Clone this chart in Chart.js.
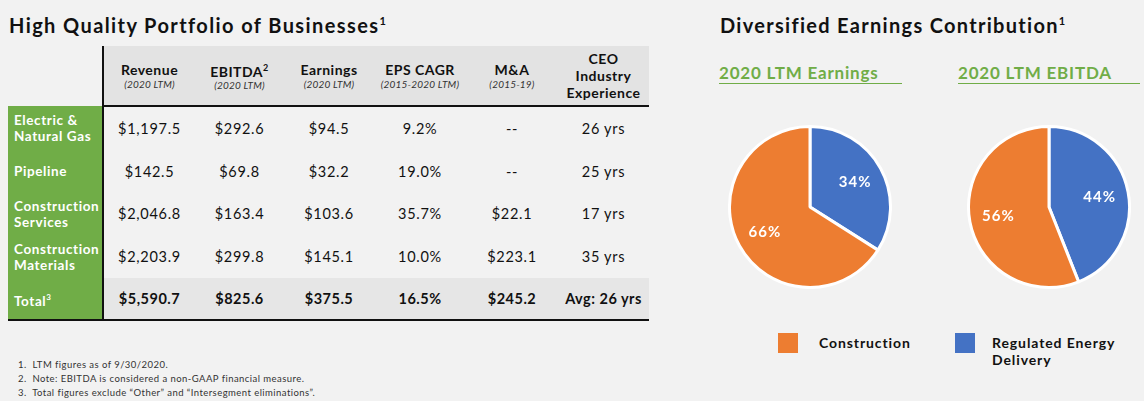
<!DOCTYPE html>
<html lang="en">
<head>
<meta charset="UTF-8">
<title>High Quality Portfolio of Businesses</title>
<script src="https://cdn.jsdelivr.net/npm/chart.js"></script>
<style>
  html, body { margin: 0; padding: 0; }
  body { width: 1144px; height: 401px; background: #f2f2f2; position: relative; overflow: hidden;
         font-family: Lato, "Noto Sans", sans-serif; color: #111; }
  .abs { position: absolute; }
  h1 { position: absolute; margin: 0; font-size: 20px; font-weight: 700; white-space: nowrap; line-height: 1; }
  h1 sup { font-size: 11px; vertical-align: 0; position: relative; top: -8px; }
  table { position: absolute; left: 8px; top: 46px; border-collapse: collapse; table-layout: fixed; }
  td, th { padding: 0; text-align: center; font-size: 14.5px; letter-spacing: 0.7px; white-space: nowrap; overflow: hidden; }
  thead th { background: #e3e3e3; font-weight: 700; font-size: 14px; line-height: 17px; height: 59px;
             border-bottom: 2px solid #111; letter-spacing: 0.5px; }
  thead th.blank { background: #f2f2f2; border-bottom: none; }
  thead th .sub { display: block; font-weight: 400; font-style: italic; font-size: 10px; line-height: 13px;
                  color: #333; letter-spacing: 0.2px; }
  tbody th { background: #70ad47; color: #fff; text-align: left; padding-left: 6px; font-size: 13.5px;
             line-height: 16px; font-weight: 700; letter-spacing: 0.6px; white-space: normal; }
  tbody td { color: #111; }
  tr.total td { background: #e6e6e6; font-weight: 700; letter-spacing: 0.5px; }
  tbody tr:last-child th, tbody tr:last-child td { border-bottom: 2px solid #111; }
  .vline { border-right: 2px solid #111; }
  .foot { position: absolute; left: 18px; top: 358px; font-size: 9.5px; line-height: 14px; color: #333;
          letter-spacing: 0.45px; }
  .sub-title { position: absolute; font-size: 17px; font-weight: 700; color: #70ad47; line-height: 1;
               border-bottom: 1.5px solid #70ad47; padding-bottom: 2px; letter-spacing: 0.8px; }
  .sw { position: absolute; width: 20px; height: 20px; }
  .lg { position: absolute; font-size: 14px; font-weight: 700; line-height: 17px; letter-spacing: 0.9px; }
</style>
</head>
<body>
<h1 style="left:9px; top:15px; letter-spacing:1.4px;">High Quality Portfolio of Businesses<sup>1</sup></h1>

<table id="tbl"></table>

<div class="foot">
  1.&nbsp; LTM figures as of 9/30/2020.<br>
  2.&nbsp; Note: EBITDA is considered a non-GAAP financial measure.<br>
  3.&nbsp; Total figures exclude “Other” and “Intersegment eliminations”.
</div>

<h1 style="left:720px; top:15px; letter-spacing:1.3px;">Diversified Earnings Contribution<sup>1</sup></h1>
<div class="sub-title" style="left:719px; top:64px; width:183px;">2020 LTM Earnings</div>
<div class="sub-title" style="left:958px; top:64px; width:182px;">2020 LTM EBITDA</div>

<div class="abs" style="left:728px; top:125px; width:164px; height:164px;"><canvas id="pieEarnings" width="164" height="164"></canvas></div>
<div class="abs" style="left:967px; top:125px; width:164px; height:164px;"><canvas id="pieEbitda" width="164" height="164"></canvas></div>

<div id="legend"></div>

<script>
// table data
const headers = ['Revenue', 'EBITDA', 'Earnings', 'EPS CAGR', 'M&A', 'CEO Industry Experience'];
const headerSups = ['', '2', '', '', '', ''];
const headerSubs = ['(2020 LTM)', '(2020 LTM)', '(2020 LTM)', '(2015-2020 LTM)', '(2015-19)', ''];
const segments = ['Electric &amp; Natural Gas', 'Pipeline', 'Construction Services', 'Construction Materials'];
const revenue = ['$1,197.5', '$142.5', '$2,046.8', '$2,203.9'];
const ebitda = ['$292.6', '$69.8', '$163.4', '$299.8'];
const earnings = ['$94.5', '$32.2', '$103.6', '$145.1'];
const epsCagr = ['9.2%', '19.0%', '35.7%', '10.0%'];
const mna = ['--', '--', '$22.1', '$223.1'];
const ceoYears = ['26 yrs', '25 yrs', '17 yrs', '35 yrs'];
const totals = ['$5,590.7', '$825.6', '$375.5', '16.5%', '$245.2', 'Avg: 26 yrs'];

// pie data
const pieLabels = ['Regulated Energy Delivery', 'Construction'];
const earningsShare = [34, 66];
const ebitdaShare = [44, 56];
const pieColors = ['#4472c4', '#ed7d31'];

const colWidths = [95, 92, 89, 90, 92, 92, 91];
const rowHeights = [44, 42, 43, 43, 42];

let html = '<colgroup>' + colWidths.map(w => `<col style="width:${w}px">`).join('') + '</colgroup>';
html += '<thead><tr><th class="blank vline"></th>';
headers.forEach((h, i) => {
  let label = h === 'CEO Industry Experience' ? 'CEO<br>Industry<br>Experience' : h;
  if (headerSups[i]) label += `<sup style="font-size:9px">${headerSups[i]}</sup>`;
  const sub = headerSubs[i] ? `<span class="sub">${headerSubs[i]}</span>` : '';
  html += `<th>${label}${sub}</th>`;
});
html += '</tr></thead><tbody>';
segments.forEach((s, r) => {
  const cells = [revenue[r], ebitda[r], earnings[r], epsCagr[r], mna[r], ceoYears[r]];
  html += `<tr style="height:${rowHeights[r]}px"><th class="vline">${s}</th>` +
          cells.map(c => `<td>${c}</td>`).join('') + '</tr>';
});
html += `<tr class="total" style="height:${rowHeights[4]}px"><th class="vline">Total<sup style="font-size:8px">3</sup></th>` +
        totals.map(c => `<td>${c}</td>`).join('') + '</tr>';
html += '</tbody>';
document.getElementById('tbl').innerHTML = html;

// legend (shared by both pies)
const legendPos = [{ sw: 778, tx: 819 }, { sw: 955, tx: 992 }];
const legendOrder = [1, 0];
let lg = '';
legendOrder.forEach((idx, k) => {
  const name = idx === 0 ? 'Regulated Energy<br>Delivery' : pieLabels[idx];
  lg += `<div class="sw" style="left:${legendPos[k].sw}px; top:333px; background:${pieColors[idx]}"></div>`;
  lg += `<div class="lg" style="left:${legendPos[k].tx}px; top:334px;">${name}</div>`;
});
document.getElementById('legend').innerHTML = lg;

const pctLabels = {
  id: 'pctLabels',
  afterDatasetsDraw(chart) {
    const ctx = chart.ctx;
    const meta = chart.getDatasetMeta(0);
    const data = chart.data.datasets[0].data;
    ctx.save();
    ctx.fillStyle = '#ffffff';
    ctx.font = '700 15px Lato, "Noto Sans", sans-serif';
    ctx.letterSpacing = '1px';
    ctx.textAlign = 'center';
    ctx.textBaseline = 'middle';
    meta.data.forEach((arc, i) => {
      const mid = (arc.startAngle + arc.endAngle) / 2;
      const r = arc.outerRadius * 0.64;
      ctx.fillText(data[i] + '%', arc.x + Math.cos(mid) * r, arc.y + Math.sin(mid) * r);
    });
    ctx.restore();
  }
};

function makePie(id, values) {
  new Chart(document.getElementById(id), {
    type: 'pie',
    data: {
      labels: pieLabels,
      datasets: [{
        data: values,
        backgroundColor: pieColors,
        borderColor: '#ffffff',
        borderWidth: 3
      }]
    },
    options: {
      responsive: false,
      animation: false,
      events: [],
      layout: { padding: 0 },
      plugins: { legend: { display: false }, tooltip: { enabled: false } }
    },
    plugins: [pctLabels]
  });
}

makePie('pieEarnings', earningsShare);
makePie('pieEbitda', ebitdaShare);
</script>
</body>
</html>
